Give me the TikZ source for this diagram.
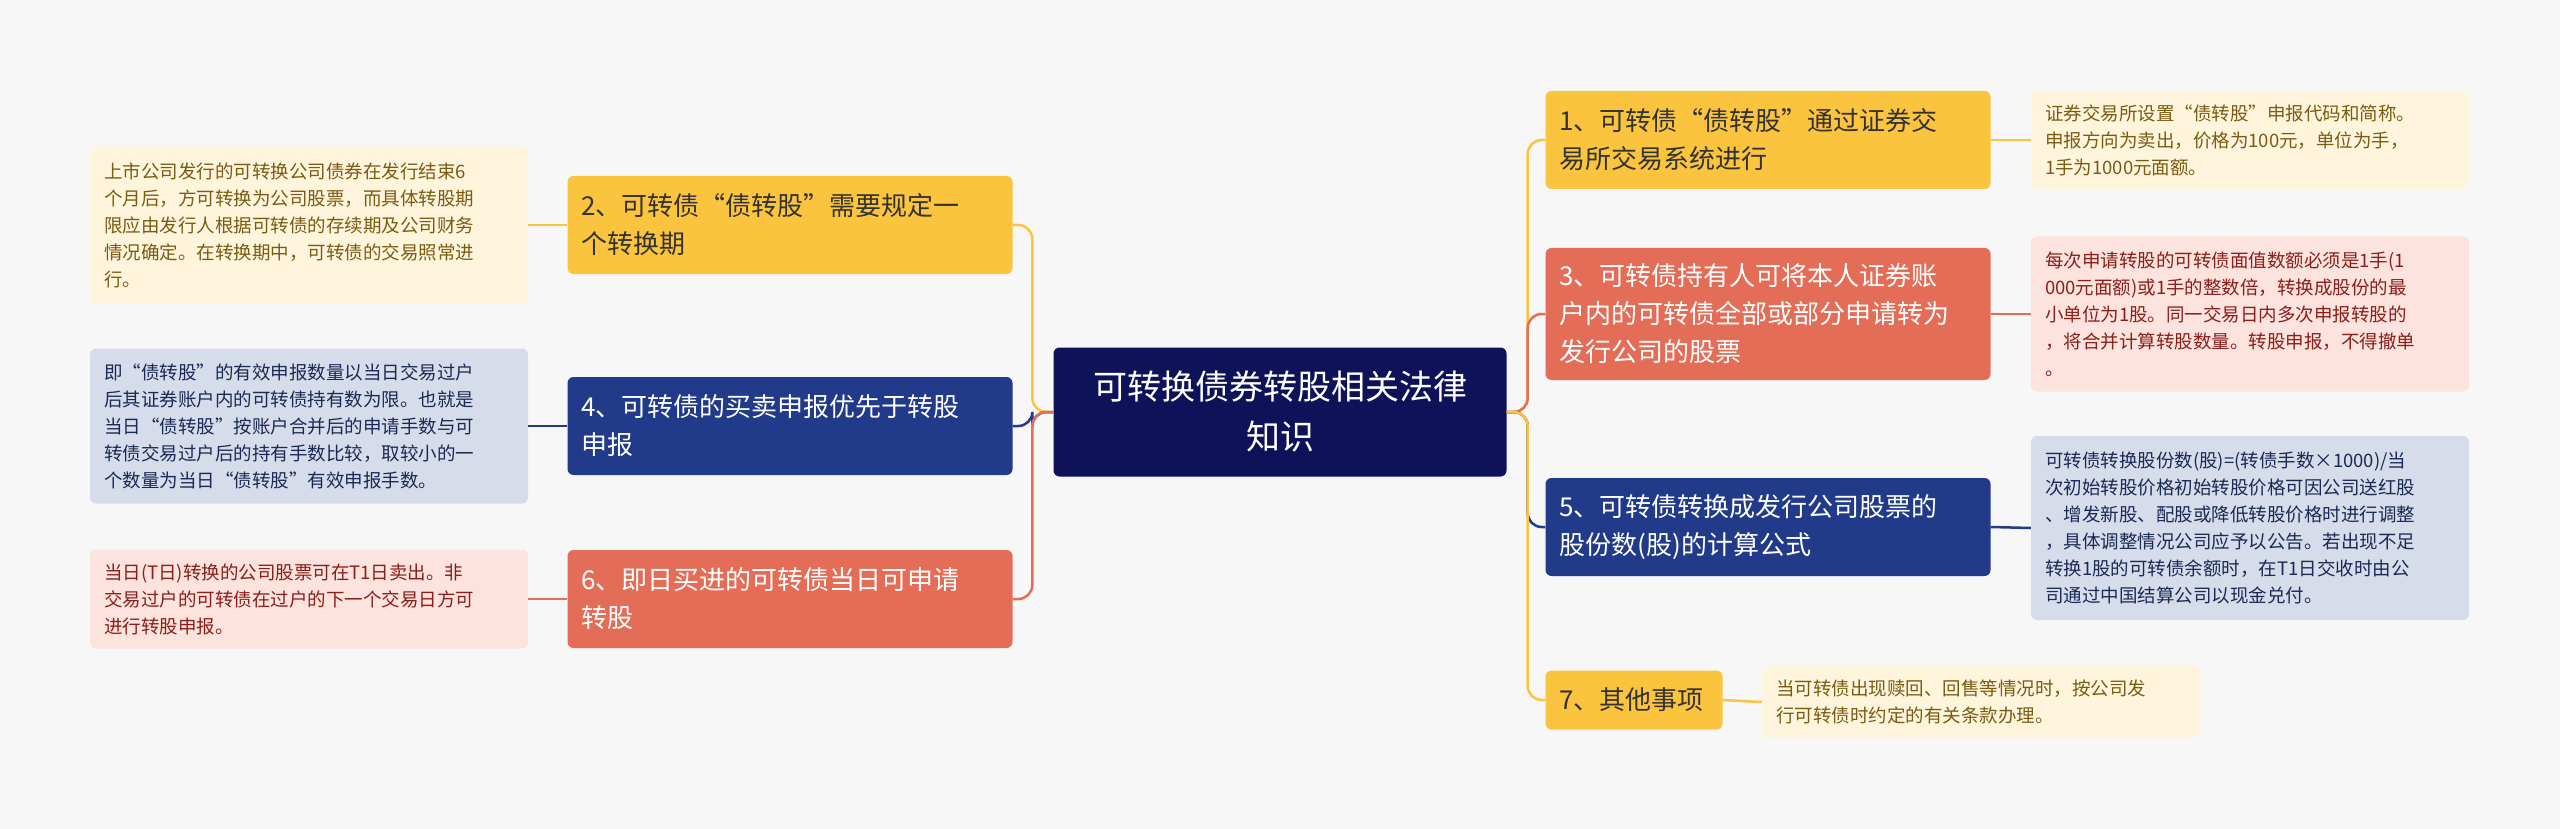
\documentclass[tikz,border=0pt]{standalone}
\usepackage{fontspec}
\setmainfont{Noto Sans CJK SC}
\begin{document}
\begin{tikzpicture}[x=1pt,y=-1pt,
  base/.style={rounded corners=6pt,inner xsep=14pt,inner ysep=0pt,align=left,anchor=center},
  main/.style={base,font=\fontsize{26}{38}\selectfont,text width=417pt,minimum height=98pt},
  ymain/.style={main,fill=yel,text=txt},
  rmain/.style={main,fill=red1,text=white},
  bmain/.style={main,fill=blu,text=white},
  leaf/.style={base,font=\fontsize{18.5}{27}\selectfont,text width=410pt},
  yleaf/.style={leaf,fill=yelL,text=yelT},
  rleaf/.style={leaf,fill=redL,text=redT},
  bleaf/.style={leaf,fill=bluL,text=bluT},
  ed/.style={line width=2.5pt,rounded corners=14pt}]
\definecolor{bg}{HTML}{F7F7F7}
\definecolor{yel}{HTML}{FBC43E}
\definecolor{red1}{HTML}{E36D57}
\definecolor{blu}{HTML}{213A8A}
\definecolor{ctr}{HTML}{0E1258}
\definecolor{txt}{HTML}{333333}
\definecolor{yelL}{HTML}{FFF5DC}
\definecolor{yelT}{HTML}{7A5B12}
\definecolor{redL}{HTML}{FCE3DD}
\definecolor{redT}{HTML}{8A1E1A}
\definecolor{bluL}{HTML}{D6DCEA}
\definecolor{bluT}{HTML}{1A2A55}
\fill[bg] (0,0) rectangle (2560,829);
\useasboundingbox (0,0) rectangle (2560,829);

\node[base,fill=ctr,text=white,font=\fontsize{34}{50}\selectfont,text width=425pt,minimum height=129pt,align=center] (c) at (1280,412) {可转换债券转股相关法律\\知识};

\node[ymain] (l2) at (790,225) {2、可转债“债转股”需要规定一\\个转换期};
\node[bmain] (l4) at (790,426) {4、可转债的买卖申报优先于转股\\申报};
\node[rmain] (l6) at (790,599) {6、即日买进的可转债当日可申请\\转股};

\node[ymain] (r1) at (1768,140) {1、可转债“债转股”通过证券交\\易所交易系统进行};
\node[rmain,minimum height=132pt] (r3) at (1768,314) {3、可转债持有人可将本人证券账\\户内的可转债全部或部分申请转为\\发行公司的股票};
\node[bmain] (r5) at (1768,527) {5、可转债转换成发行公司股票的\\股份数(股)的计算公式};
\node[main,fill=yel,text=txt,text width=149pt,minimum height=59pt] (r7) at (1634,700) {7、其他事项};

\node[yleaf,minimum height=157pt] (a2) at (309,225) {上市公司发行的可转换公司债券在发行结束6\\个月后，方可转换为公司股票，而具体转股期\\限应由发行人根据可转债的存续期及公司财务\\情况确定。在转换期中，可转债的交易照常进\\行。};
\node[bleaf,minimum height=155pt] (a4) at (309,426) {即“债转股”的有效申报数量以当日交易过户\\后其证券账户内的可转债持有数为限。也就是\\当日“债转股”按账户合并后的申请手数与可\\转债交易过户后的持有手数比较，取较小的一\\个数量为当日“债转股”有效申报手数。};
\node[rleaf,minimum height=99pt] (a6) at (309,599) {当日(T日)转换的公司股票可在T1日卖出。非\\交易过户的可转债在过户的下一个交易日方可\\进行转股申报。};

\node[yleaf,minimum height=98pt] (b1) at (2250,140) {证券交易所设置“债转股”申报代码和简称。\\申报方向为卖出，价格为100元，单位为手，\\1手为1000元面额。};
\node[rleaf,minimum height=155pt] (b3) at (2250,314) {每次申请转股的可转债面值数额必须是1手(1\\000元面额)或1手的整数倍，转换成股份的最\\小单位为1股。同一交易日内多次申报转股的\\，将合并计算转股数量。转股申报，不得撤单\\。};
\node[bleaf,minimum height=184pt] (b5) at (2250,528) {可转债转换股份数(股)=(转债手数×1000)/当\\次初始转股价格初始转股价格可因公司送红股\\、增发新股、配股或降低转股价格时进行调整\\，具体调整情况公司应予以公告。若出现不足\\转换1股的可转债余额时，在T1日交收时由公\\司通过中国结算公司以现金兑付。};
\node[yleaf,minimum height=72pt] (b7) at (1981,702) {当可转债出现赎回、回售等情况时，按公司发\\行可转债时约定的有关条款办理。};

\draw[ed,yel] (c.west) -- ++(-21,0) |- (l2.east);
\draw[ed,blu] (c.west) -- ++(-21,0) |- (l4.east);
\draw[ed,red1] (c.west) -- ++(-21,0) |- (l6.east);
\draw[ed,yel] (c.east) -- ++(21,0) |- (r1.west);
\draw[ed,red1] (c.east) -- ++(21,0) |- (r3.west);
\draw[ed,blu] (c.east) -- ++(21,0) |- (r5.west);
\draw[ed,yel] (c.east) -- ++(21,0) |- (r7.west);
\draw[line width=2.5pt,yel] (l2.west) -- (a2.east);
\draw[line width=2.5pt,blu] (l4.west) -- (a4.east);
\draw[line width=2.5pt,red1] (l6.west) -- (a6.east);
\draw[line width=2.5pt,yel] (r1.east) -- (b1.west);
\draw[line width=2.5pt,red1] (r3.east) -- (b3.west);
\draw[line width=2.5pt,blu] (r5.east) -- (b5.west);
\draw[line width=2.5pt,yel] (r7.east) -- (b7.west);
\end{tikzpicture}
\end{document}
